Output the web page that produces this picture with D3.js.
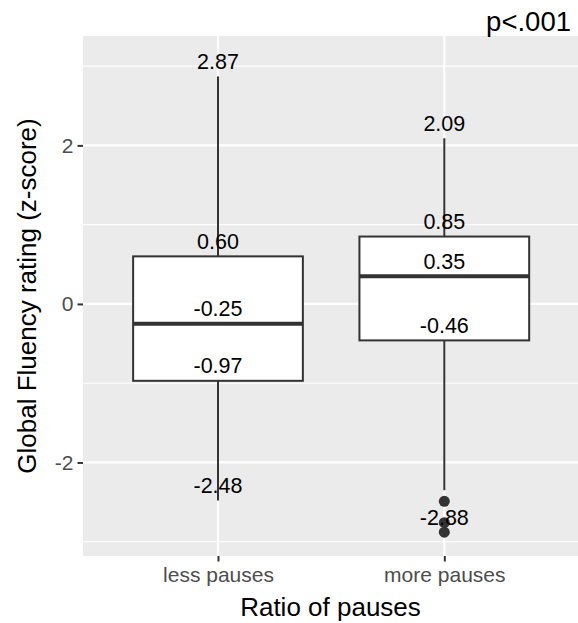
<!DOCTYPE html>
<html>
<head>
<meta charset="utf-8">
<script src="https://cdn.jsdelivr.net/npm/d3@7"></script>
<style>
  html, body { margin: 0; padding: 0; background: #ffffff; }
  svg { display: block; }
  text { font-family: "Liberation Sans", Arial, Helvetica, sans-serif; }
</style>
</head>
<body>
<div id="chart"></div>
<script>
// ---- data ----
const categories = ["less pauses", "more pauses"];
const whiskerLow = [-2.48, -2.35];
const q1 = [-0.97, -0.46];
const medians = [-0.25, 0.35];
const q3 = [0.60, 0.85];
const whiskerHigh = [2.87, 2.09];
const outliers = [[], [-2.49, -2.76, -2.88]];
const labelMax = ["2.87", "2.09"];
const labelQ3 = ["0.60", "0.85"];
const labelMedian = ["-0.25", "0.35"];
const labelQ1 = ["-0.97", "-0.46"];
const labelMin = ["-2.48", "-2.88"];
const labelMinValue = [-2.48, -2.88];
const yTicks = [-2, 0, 2];
const yTickLabels = ["-2", "0", "2"];
const yMinor = [-3, -1, 1, 3];
const xTitle = "Ratio of pauses";
const yTitle = "Global Fluency rating (z-score)";
const annotation = "p<.001";

// ---- layout ----
const W = 578, H = 623;
const panel = { left: 83, right: 578, top: 36, bottom: 556 };

const svg = d3.select("#chart").append("svg")
  .attr("width", W).attr("height", H);

const x = d3.scaleLinear().domain([0.4, 2.6]).range([82.2, 580.1]);
const y = d3.scaleLinear().domain([-3.18, 3.38]).range([panel.bottom, panel.top]);

// panel background
svg.append("rect")
  .attr("x", panel.left).attr("y", panel.top)
  .attr("width", panel.right - panel.left).attr("height", panel.bottom - panel.top)
  .attr("fill", "#EBEBEB");

svg.append("defs").append("clipPath").attr("id", "pclip")
  .append("rect")
  .attr("x", panel.left).attr("y", panel.top)
  .attr("width", panel.right - panel.left).attr("height", panel.bottom - panel.top);

const g = svg.append("g").attr("clip-path", "url(#pclip)");

// minor grid
g.selectAll("line.minor").data(yMinor).enter().append("line")
  .attr("x1", panel.left).attr("x2", panel.right)
  .attr("y1", d => y(d)).attr("y2", d => y(d))
  .attr("stroke", "#FFFFFF").attr("stroke-width", 1.1);

// major grid horizontal
g.selectAll("line.major").data(yTicks).enter().append("line")
  .attr("x1", panel.left).attr("x2", panel.right)
  .attr("y1", d => y(d)).attr("y2", d => y(d))
  .attr("stroke", "#FFFFFF").attr("stroke-width", 2.2);

// major grid vertical
g.selectAll("line.vmajor").data(categories).enter().append("line")
  .attr("x1", (d, i) => x(i + 1)).attr("x2", (d, i) => x(i + 1))
  .attr("y1", panel.top).attr("y2", panel.bottom)
  .attr("stroke", "#FFFFFF").attr("stroke-width", 2.2);

const boxColor = "#333333";
const halfW = 0.375;

categories.forEach((c, i) => {
  const cx = x(i + 1);
  // whiskers
  g.append("line")
    .attr("x1", cx).attr("x2", cx)
    .attr("y1", y(whiskerHigh[i])).attr("y2", y(q3[i]))
    .attr("stroke", boxColor).attr("stroke-width", 2);
  g.append("line")
    .attr("x1", cx).attr("x2", cx)
    .attr("y1", y(q1[i])).attr("y2", y(whiskerLow[i]))
    .attr("stroke", boxColor).attr("stroke-width", 2);
  // box
  g.append("rect")
    .attr("x", x(i + 1 - halfW)).attr("y", y(q3[i]))
    .attr("width", x(i + 1 + halfW) - x(i + 1 - halfW))
    .attr("height", y(q1[i]) - y(q3[i]))
    .attr("fill", "#FFFFFF").attr("stroke", boxColor).attr("stroke-width", 2);
  // median
  g.append("line")
    .attr("x1", x(i + 1 - halfW)).attr("x2", x(i + 1 + halfW))
    .attr("y1", y(medians[i])).attr("y2", y(medians[i]))
    .attr("stroke", boxColor).attr("stroke-width", 4);
  // outliers
  g.selectAll("circle.o" + i).data(outliers[i]).enter().append("circle")
    .attr("cx", cx).attr("cy", d => y(d)).attr("r", 5.5)
    .attr("fill", boxColor);
});

// value labels
const fsLab = 21.5;
const labOff = 7.5;
categories.forEach((c, i) => {
  const cx = x(i + 1);
  const items = [
    [labelMax[i], whiskerHigh[i]],
    [labelQ3[i], q3[i]],
    [labelMedian[i], medians[i]],
    [labelQ1[i], q1[i]],
    [labelMin[i], labelMinValue[i]]
  ];
  items.forEach(([t, v]) => {
    svg.append("text")
      .attr("x", cx).attr("y", y(v) - labOff)
      .attr("text-anchor", "middle")
      .attr("font-size", fsLab)
      .attr("fill", "#000000")
      .text(t);
  });
});

// y axis
const yAxis = d3.axisLeft(y).tickValues(yTicks).tickSize(5.5).tickPadding(4)
  .tickFormat((d, i) => yTickLabels[i]);
const ya = svg.append("g").attr("transform", `translate(${panel.left},0)`).call(yAxis);
ya.select(".domain").remove();
ya.selectAll(".tick line").attr("stroke", "#333333").attr("stroke-width", 2);
ya.selectAll(".tick text").attr("fill", "#4D4D4D").attr("font-size", 21)
  .attr("font-family", "Liberation Sans, Arial, sans-serif");

// x axis
const xAxis = d3.axisBottom(x).tickValues([1, 2]).tickSize(5.5).tickPadding(6)
  .tickFormat(d => categories[d - 1]);
const xa = svg.append("g").attr("transform", `translate(0,${panel.bottom})`).call(xAxis);
xa.select(".domain").remove();
xa.selectAll(".tick line").attr("stroke", "#333333").attr("stroke-width", 2);
xa.selectAll(".tick text").attr("fill", "#4D4D4D").attr("font-size", 21)
  .attr("font-family", "Liberation Sans, Arial, sans-serif");

// axis titles
svg.append("text")
  .attr("x", (panel.left + panel.right) / 2).attr("y", 616)
  .attr("text-anchor", "middle").attr("font-size", 26).attr("fill", "#000000")
  .text(xTitle);

svg.append("text")
  .attr("transform", `translate(36,${(panel.top + panel.bottom) / 2}) rotate(-90)`)
  .attr("text-anchor", "middle").attr("font-size", 26).attr("fill", "#000000")
  .text(yTitle);

// annotation
svg.append("text")
  .attr("x", 571).attr("y", 31)
  .attr("text-anchor", "end").attr("font-size", 27.5).attr("fill", "#000000")
  .text(annotation);
</script>
</body>
</html>
